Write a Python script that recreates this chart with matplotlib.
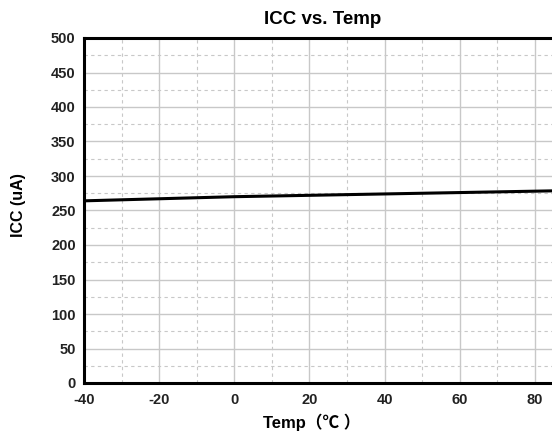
import matplotlib
matplotlib.use('Agg')
import matplotlib.pyplot as plt
from matplotlib.ticker import MultipleLocator

# values
temp = [-40, -20, 0, 20, 40, 60, 80, 100]
icc = [264, 267, 270, 272, 274, 276, 278, 280]
xticks = [-40, -20, 0, 20, 40, 60, 80]
yticks = [0, 50, 100, 150, 200, 250, 300, 350, 400, 450, 500]

plt.rcParams['font.family'] = ['Liberation Sans', 'Noto Sans CJK SC']
plt.rcParams['axes.unicode_minus'] = False

fig = plt.figure(figsize=(5.52, 4.34), dpi=100)
# axes run past the right edge of the figure, as in the cropped original
ax = fig.add_axes([84/552, 1 - 383/434, 526/552, 345/434])

ax.plot(temp, icc, color='black', linewidth=2.2, zorder=3)

ax.set_xlim(-40, 100)
ax.set_ylim(0, 500)
ax.set_xticks(xticks)
ax.set_yticks(yticks)
ax.xaxis.set_minor_locator(MultipleLocator(10))
ax.yaxis.set_minor_locator(MultipleLocator(25))
ax.grid(which='major', color='#c8c8c8', linewidth=1.0, linestyle='-')
ax.grid(which='minor', color='#c8c8c8', linewidth=0.8, linestyle=(0, (3, 3)))
ax.set_axisbelow(True)
ax.tick_params(axis='y', which='both', length=0, labelsize=10.5, pad=6)
ax.tick_params(axis='x', which='both', length=0, labelsize=10.5, pad=7)
for lab in ax.get_xticklabels() + ax.get_yticklabels():
    lab.set_fontweight('bold')
    lab.set_color('#222222')

for side in ['left', 'bottom', 'top']:
    ax.spines[side].set_linewidth(2.2)
ax.spines['right'].set_visible(False)

fig.text(323/552, 1 - 20/434, 'ICC vs. Temp', ha='center', va='center',
         fontsize=13.5, fontweight='bold')
fig.text(312/552, 1 - 422/434, 'Temp（℃ ）', ha='center', va='center',
         fontsize=12, fontweight='bold')
fig.text(18/552, 1 - 205/434, 'ICC (uA)', ha='center', va='center',
         rotation=90, fontsize=11.5, fontweight='bold')

fig.savefig('out.png', dpi=100)
